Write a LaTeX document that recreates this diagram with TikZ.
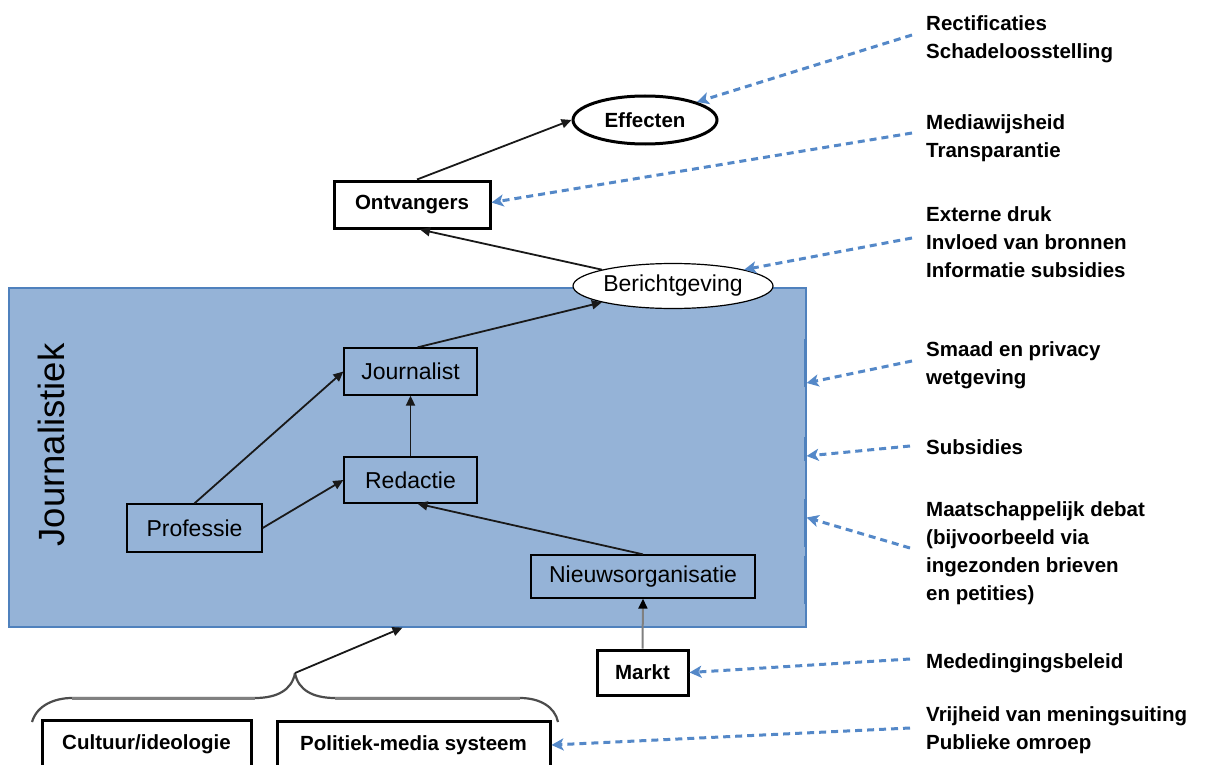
\documentclass[tikz,border=0pt]{standalone}
\usepackage{fontspec}
\setmainfont{Liberation Sans}
\usetikzlibrary{arrows.meta,shapes.geometric,calc}
\definecolor{jblue}{RGB}{149,179,215}
\definecolor{jedge}{RGB}{79,129,189}
\definecolor{dblue}{RGB}{84,136,200}
\begin{document}
\begin{tikzpicture}[x=1pt,y=-1pt,
  reg/.style={font=\fontsize{23}{27}\selectfont},
  bld/.style={font=\fontsize{20.5}{28}\selectfont\bfseries},
  inbox/.style={draw=black, line width=1.3pt, rectangle, reg, inner sep=0pt},
  thickbox/.style={draw=black, line width=3pt, rectangle, bld, inner sep=0pt},
  lbl/.style={bld, align=left, anchor=north west, inner sep=0pt},
  arr/.style={draw=black!90, line width=1.8pt, -{Triangle[length=10pt,width=9pt]}},
  garr/.style={draw=black!50, line width=2pt, -{Triangle[length=10pt,width=9pt,color=black]}},
  darr/.style={draw=dblue, line width=3pt, dash pattern=on 7pt off 5pt, -{Stealth[length=12pt,width=12pt,inset=3pt]}},
  brace/.style={draw=black!70, line width=2.2pt},
]
\useasboundingbox (0,0) rectangle (1207,765);
\fill[white] (0,0) rectangle (1207,765);

% Journalistiek area
\node[draw=jedge, fill=jblue, line width=1.2pt, minimum width=797pt, minimum height=339pt, inner sep=0pt] (journ) at (407.5,457.5) {};
\foreach \a/\b in {52/100,150/174,212/260,269/317}
  \draw[jedge, line width=2.2pt] ($(journ.north east)+(-2,\a)$) -- ($(journ.north east)+(-2,\b)$);
\node[rotate=90, font=\fontsize{36.5}{40}\selectfont, inner sep=0pt] (jtitle) at (51,445) {Journalistiek};

% nodes
\node[thickbox, minimum width=156pt, minimum height=47pt] (ont) at (412,204.5) {Ontvangers};
\node[ellipse, draw=black, line width=3pt, bld, minimum width=144pt, minimum height=48pt, inner sep=0pt] (eff) at (645,120) {Effecten};
\node[ellipse, draw=black, fill=white, line width=1.2pt, reg, minimum width=200pt, minimum height=45pt, inner sep=0pt] (ber) at (673,286) {Berichtgeving};
\node[inbox, minimum width=133pt, minimum height=47pt] (jl) at (410.5,371.5) {Journalist};
\node[inbox, minimum width=133pt, minimum height=46pt] (rd) at (410.5,480) {Redactie};
\node[inbox, minimum width=135pt, minimum height=48pt] (pr) at (194.5,528) {Professie};
\node[inbox, minimum width=224pt, minimum height=43pt] (nw) at (643,576.5) {Nieuwsorganisatie};
\node[thickbox, minimum width=91pt, minimum height=45pt] (mk) at (642.5,672.5) {Markt};
\node[thickbox, minimum width=209pt, minimum height=49pt] (cul) at (146.5,744.5) {Cultuur/ideologie};
\node[thickbox, minimum width=273pt, minimum height=48pt] (pol) at (413.5,745) {Politiek-media systeem};

% inner arrows
\draw[arr] ([xshift=5pt]ont.north) -- (eff.west);
\draw[arr] (ber.north west) -- ([xshift=8pt]ont.south);
\draw[arr] ([xshift=7pt]jl.north) -- (ber.south west);
\draw[arr] (rd.north) -- (jl.south);
\draw[arr] (pr.north) -- (jl.west);
\draw[arr] (pr.east) -- (rd.west);
\draw[arr] (nw.north) -- ([xshift=7pt]rd.south);
\draw[garr] (mk.north) -- (nw.south);

% brace
\coordinate (bpk) at (295,673);
\draw[brace] (32,722) .. controls (37,705) and (55,698) .. (72,698) -- (255,698) .. controls (277,698) and (292,690) .. (bpk);
\draw[brace] (bpk) .. controls (298,690) and (313,698) .. (335,698) -- (520,698) .. controls (540,698) and (555,707) .. (558,722);
\draw[draw=black!50, line width=3pt] (72,698) -- (255,698) (335,698) -- (520,698);
\draw[arr] (bpk) -- ([xshift=-5pt]journ.south);

% right labels
\node[lbl] (t1) at (926,11) {\strut Rectificaties\\Schadeloosstelling};
\node[lbl] (t2) at (926,110) {\strut Mediawijsheid\\Transparantie};
\node[lbl] (t3) at (926,202) {\strut Externe druk\\Invloed van bronnen\\Informatie subsidies};
\node[lbl] (t4) at (926,337) {\strut Smaad en privacy\\wetgeving};
\node[lbl] (t5) at (926,435) {\strut Subsidies};
\node[lbl] (t6) at (926,497) {\strut Maatschappelijk debat\\(bijvoorbeeld via\\ingezonden brieven\\en petities)};
\node[lbl] (t7) at (926,649) {\strut Mededingingsbeleid};
\node[lbl] (t8) at (926,702) {\strut Vrijheid van meningsuiting\\Publieke omroep};

% dashed arrows
\coordinate (s1) at (912,35);
\coordinate (s2) at (912,133);
\coordinate (s3) at (912,238);
\coordinate (s4) at (912,361);
\coordinate (s5) at (910,446);
\coordinate (s6) at (910,548);
\coordinate (s7) at (910,659);
\coordinate (s8) at (910,728);
\draw[darr] (s1) -- (eff.north east);
\draw[darr] (s2) -- ([yshift=2pt]ont.east);
\draw[darr] (s3) -- (ber.north east);
\draw[darr] (s4) -- ([yshift=74.5pt]journ.east);
\draw[darr] (s5) -- ([yshift=1.5pt]journ.east);
\draw[darr] (s6) -- ([yshift=-60pt]journ.east);
\draw[darr] (s7) -- (mk.east);
\draw[darr] (s8) -- (pol.east);
\end{tikzpicture}
\end{document}
